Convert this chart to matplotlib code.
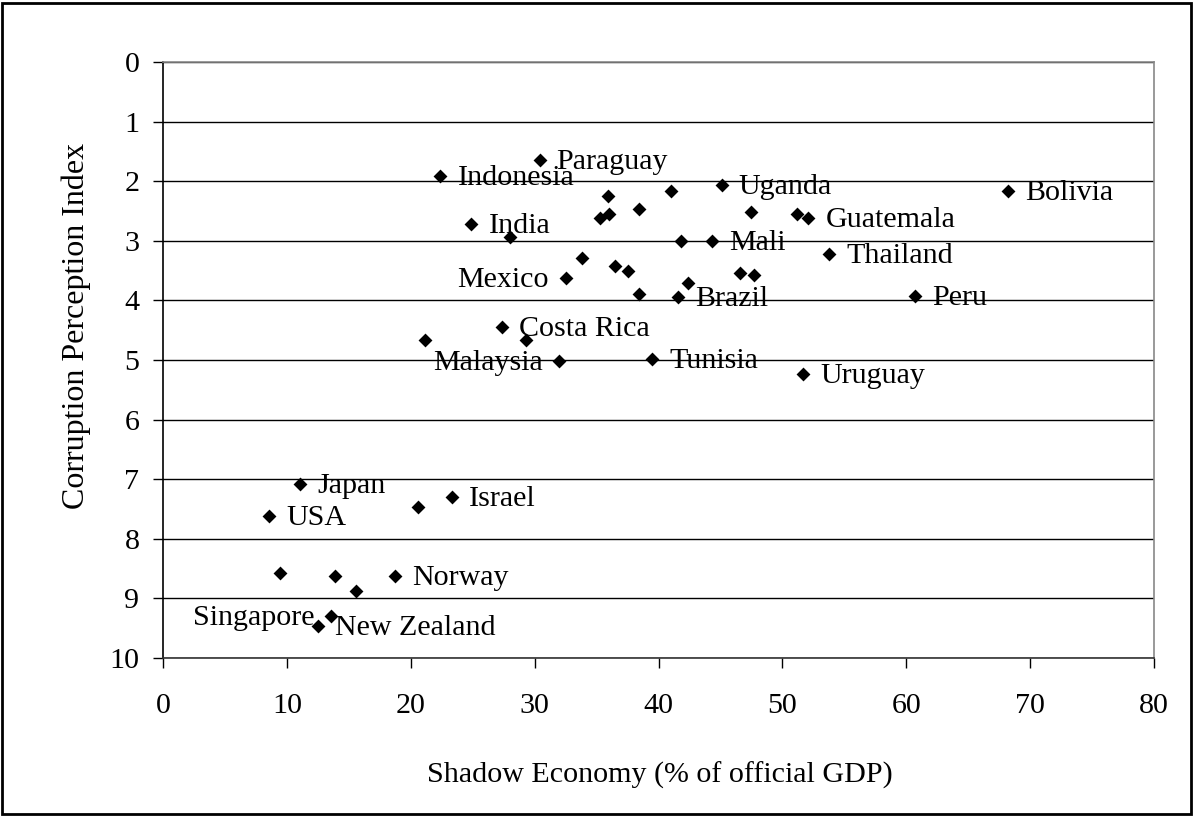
import matplotlib.pyplot as plt
from matplotlib.patches import Rectangle

plt.rcParams['font.family'] = ['Liberation Serif', 'DejaVu Serif']

# shadow economy (% of GDP), corruption perception index, label ("" = none)
shadow = [22.4, 30.4, 24.9, 32.5, 27.4, 32.0, 45.1, 68.2, 52.1, 44.3,
          53.8, 41.6, 60.7, 39.5, 51.7, 11.06, 8.58, 23.3, 18.7, 13.6, 12.5,
          28.05, 33.8, 29.3, 21.15, 35.9, 41.0, 35.3, 35.98, 38.4, 47.5,
          51.2, 41.8, 36.5, 37.5, 46.6, 47.7, 42.4, 38.4, 20.6, 9.44, 13.9, 15.6]
cpi = [1.91, 1.65, 2.72, 3.62, 4.44, 5.02, 2.07, 2.16, 2.61, 3.0,
       3.22, 3.95, 3.93, 4.99, 5.23, 7.08, 7.61, 7.30, 8.63, 9.30, 9.47,
       2.93, 3.29, 4.67, 4.67, 2.24, 2.16, 2.61, 2.55, 2.47, 2.51,
       2.55, 3.0, 3.43, 3.50, 3.54, 3.57, 3.71, 3.90, 7.47, 8.57, 8.63, 8.88]
labels = ["Indonesia", "Paraguay", "India", "Mexico", "Costa Rica", "Malaysia",
          "Uganda", "Bolivia", "Guatemala", "Mali", "Thailand", "Brazil", "Peru",
          "Tunisia", "Uruguay", "Japan", "USA", "Israel", "Norway", "Singapore",
          "New Zealand"] + [""] * 22
left_side = ["Mexico", "Malaysia", "Singapore"]

fs = 21.6
W, H = 1194, 816
fig = plt.figure(figsize=(W / 100, H / 100), dpi=100)
ax = fig.add_axes([163 / W, 1 - 658 / H, (1154 - 163) / W, (658 - 62) / H])

ax.scatter(shadow, cpi, marker='D', s=50, color='black', zorder=3, linewidths=0)

for x, y, lab in zip(shadow, cpi, labels):
    if lab == "":
        continue
    if lab in left_side:
        ax.annotate(lab, (x, y), xytext=(-17, -2), textcoords='offset pixels',
                    ha='right', va='center', fontsize=fs, zorder=4)
    else:
        ax.annotate(lab, (x, y), xytext=(17, -2), textcoords='offset pixels',
                    ha='left', va='center', fontsize=fs, zorder=4)

ax.set_xlim(0, 80)
ax.set_ylim(10, 0)
ax.set_xticks(range(0, 81, 10))
ax.set_yticks(range(0, 11))
ax.yaxis.grid(True, color='black', linewidth=1)
ax.set_axisbelow(True)

ax.spines['top'].set_color('#888888')
ax.spines['right'].set_color('#888888')
ax.spines['left'].set_color('black')
ax.spines['bottom'].set_color('#333333')
for s in ax.spines.values():
    s.set_linewidth(1.2)

ax.tick_params(axis='both', direction='out', length=7, width=1, color='black',
               labelsize=fs)
ax.tick_params(axis='y', pad=10)
ax.tick_params(axis='x', pad=18)

fig.text(660 / W, 1 - 775 / H, "Shadow Economy (% of official GDP)",
         ha='center', va='center', fontsize=fs)
fig.text(76 / W, 1 - 326 / H, "Corruption Perception Index",
         ha='center', va='center', rotation=90, fontsize=23)

fig.patches.append(Rectangle((2 / W, 2 / H), (W - 5) / W, (H - 5) / H,
                             transform=fig.transFigure, fill=False,
                             edgecolor='black', linewidth=2))

fig.savefig("out.png", dpi=100)
